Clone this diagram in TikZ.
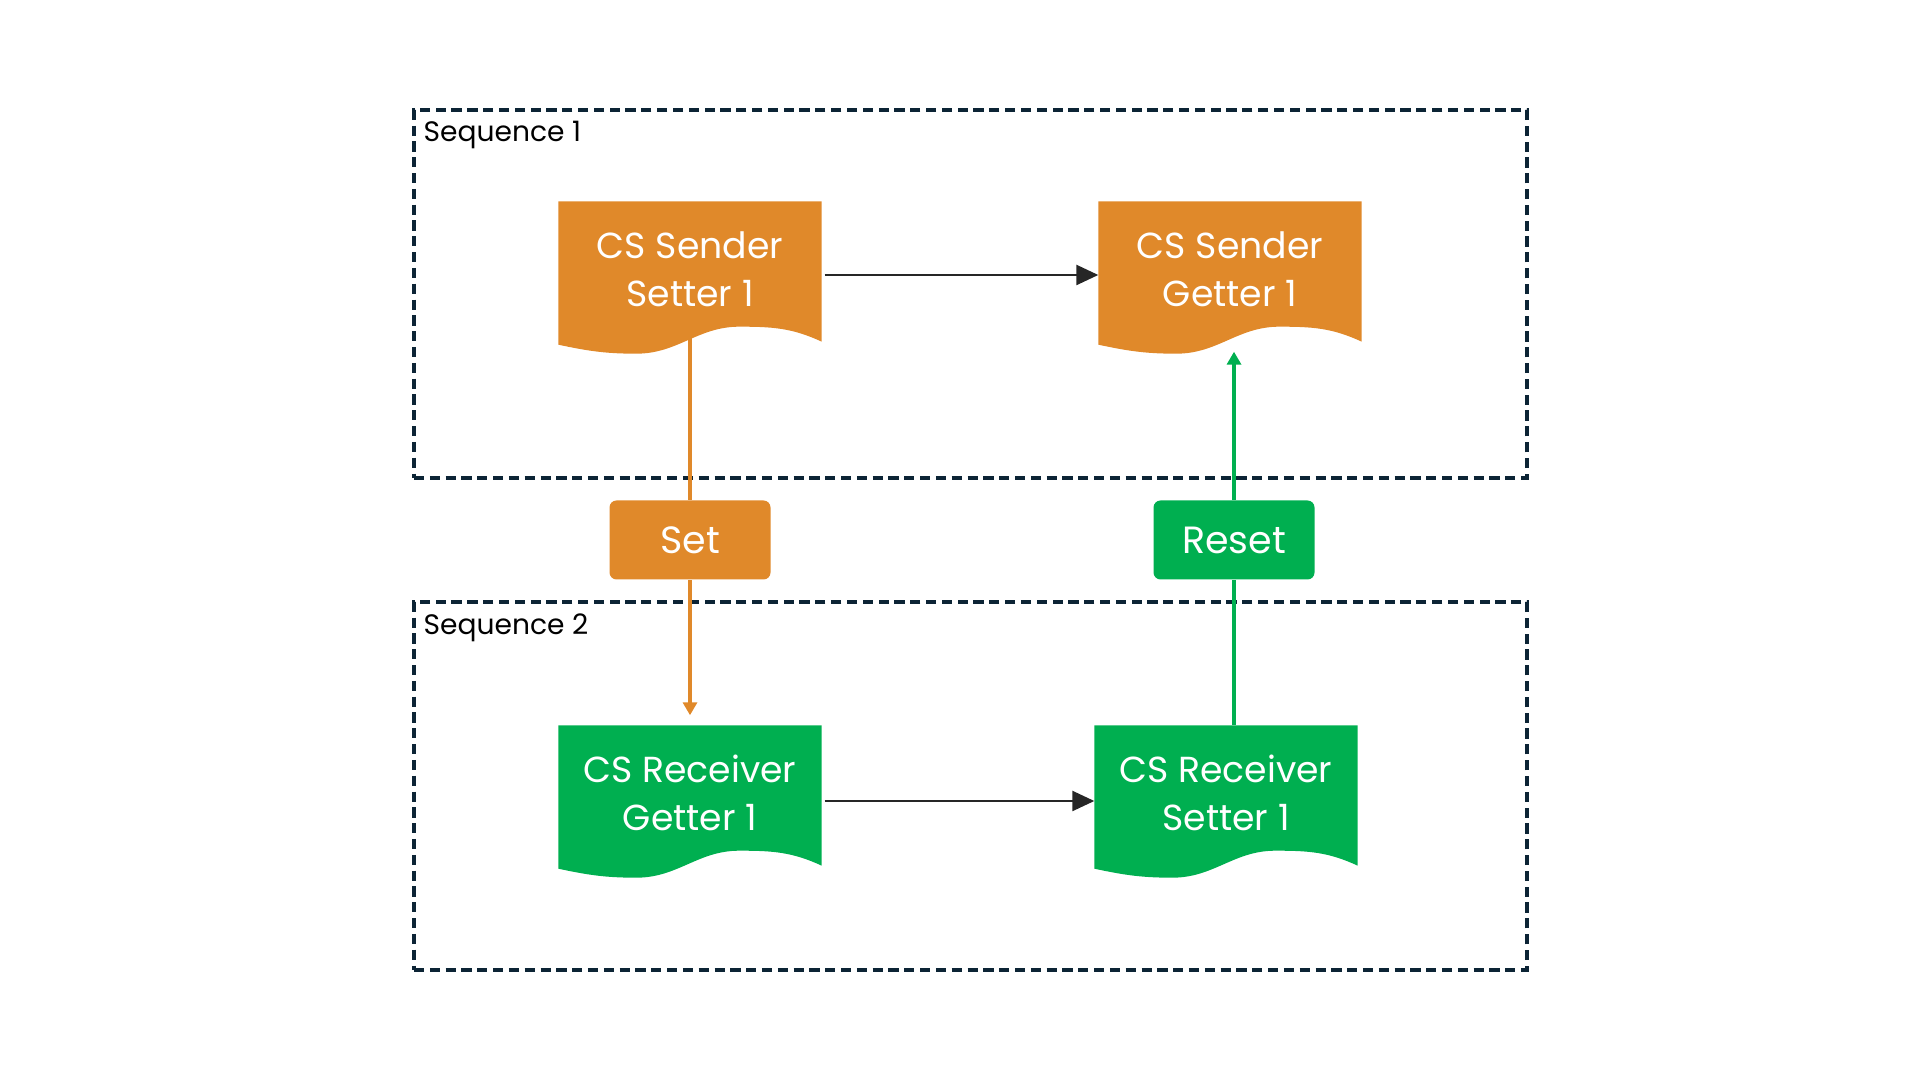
\documentclass[tikz,border=0pt]{standalone}
\usepackage{fontspec}
\setmainfont{Poppins}
\usepackage{tikz}
\usetikzlibrary{positioning,arrows.meta,backgrounds}
\definecolor{docorange}{HTML}{E0892A}
\definecolor{docgreen}{HTML}{00AF50}
\definecolor{seqnavy}{HTML}{0C2435}

\begin{document}
\begin{tikzpicture}[
SeqBox/.style={draw=seqnavy,line width=0.9pt,dash pattern=on 2.9pt off 1.6pt,minimum width=11.13cm,minimum height=3.68cm,inner sep=0pt},
SeqLabel/.style={font=\fontsize{8}{9}\selectfont,text=black,inner sep=0pt},
DocNode/.style={minimum width=2.62cm,minimum height=1.34cm,inner sep=0pt,align=center,text=white,font=\fontsize{10.3}{13.7}\selectfont},
TagBox/.style={rounded corners=0.07cm,minimum width=1.61cm,minimum height=0.79cm,inner sep=0pt,text=white,font=\fontsize{10.8}{12}\selectfont},
Link/.style={draw=black!85,line width=0.7pt,-{Triangle[length=0.22cm,width=0.2cm]}},
OrangeLink/.style={draw=docorange,line width=1.05pt},
GreenLink/.style={draw=docgreen,line width=1.05pt},
SmallTip/.style={-{Triangle[length=0.13cm,width=0.14cm]}}
]
\useasboundingbox (0,0) rectangle (19.2,10.8);

% the two sequences
\node[SeqBox] (Seq1) at (9.705,7.86) {};
\node[SeqBox] (Seq2) at (9.705,2.94) {};
\node[SeqLabel,anchor=base west] (Seq1Label) at (4.23,9.38) {Sequence 1};
\node[SeqLabel,anchor=base west] (Seq2Label) at (4.23,4.45) {Sequence 2};

% documents
\node[DocNode] (SenderSet) at (6.90,8.11) {CS Sender\\Setter 1};
\node[DocNode] (SenderGet) at (12.30,8.11) {CS Sender\\Getter 1};
\node[DocNode] (RecvGet) at (6.90,2.87) {CS Receiver\\Getter 1};
\node[DocNode] (RecvSet) at (12.26,2.87) {CS Receiver\\Setter 1};

% tags in between
\node[TagBox,fill=docorange] (SetBox) at (6.90,5.40) {Set};
\node[TagBox,fill=docgreen] (ResetBox) at (12.34,5.40) {Reset};

% wavy document shapes behind the text
\begin{pgfonlayer}{background}
\foreach \n/\c in {SenderSet/docorange,SenderGet/docorange,RecvGet/docgreen,RecvSet/docgreen}
  \fill[\c] (\n.north west) -- (\n.north east) -- ([shift={(0,-0.05)}]\n.south east)
    to[out=155,in=0] ([shift={(1.81,0.10)}]\n.south west)
    to[out=180,in=0] ([shift={(0.78,-0.17)}]\n.south west)
    to[out=180,in=-12] ([shift={(0,-0.08)}]\n.south west) -- cycle;
\end{pgfonlayer}

% free end of the reset arrow, just under the wave
\coordinate (SenderGetFoot) at ([yshift=-0.15cm]SenderGet.south -| ResetBox);

\draw[Link,shorten <=0.03cm] ([yshift=-0.06cm]SenderSet.east) -- ([yshift=-0.06cm]SenderGet.west);
\draw[Link,shorten <=0.03cm] ([yshift=-0.08cm]RecvGet.east) -- ([yshift=-0.08cm]RecvSet.west);

\draw[OrangeLink] (SenderSet.south) -- (SetBox);
\draw[OrangeLink,SmallTip,shorten >=0.1cm] (SetBox) -- (RecvGet.north -| SetBox);

\draw[GreenLink] (RecvSet.north -| ResetBox) -- (ResetBox);
\draw[GreenLink,SmallTip] (ResetBox) -- (SenderGetFoot);

\end{tikzpicture}
\end{document}
